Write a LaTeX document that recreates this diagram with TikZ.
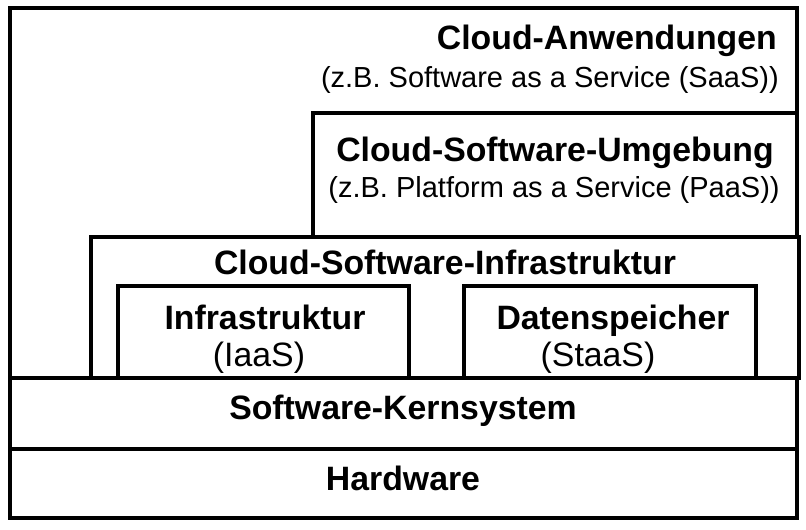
\documentclass[tikz,border=0pt]{standalone}
\usepackage{fontspec}
\setmainfont{Liberation Sans}
\begin{document}
\begin{tikzpicture}[x=0.75pt,y=-0.75pt,
  layer/.style={draw=black,line width=3pt,fill=white},
  title/.style={inner sep=0pt,font=\fontsize{25.35pt}{28pt}\selectfont\bfseries},
  sub/.style={inner sep=0pt,font=\fontsize{21.75pt}{24pt}\selectfont},
  subbig/.style={inner sep=0pt,font=\fontsize{25.35pt}{28pt}\selectfont}]
\useasboundingbox (0,0) rectangle (806,530);
\fill[white] (0,0) rectangle (806,530);
% layers
\draw[layer] (10,8) rectangle (797,518);
\draw[layer] (313,113) rectangle (797,237);
\draw[layer] (91,237) rectangle (799,378);
\draw[layer] (118,286) rectangle (409,378);
\draw[layer] (464,286) rectangle (756,378);
\draw[layer] (10,378) rectangle (797,449);
\draw[layer] (10,449) rectangle (797,518);
% texts
\node[title,anchor=base east] (app) at (777,50) {Cloud-Anwendungen};
\node[sub,anchor=base east] (saas) at (779,88) {(z.B. Software as a Service (SaaS))};
\node[title,anchor=base] (env) at (555,162) {Cloud-Software-Umgebung};
\node[sub,anchor=base] (paas) at (554,198) {(z.B. Platform as a Service (PaaS))};
\node[title,anchor=base] (infra) at (445,275) {Cloud-Software-Infrastruktur};
\node[title,anchor=base] (iaas) at (265,330) {Infrastruktur};
\node[subbig,anchor=base] (iaasb) at (259,367) {(IaaS)};
\node[title,anchor=base] (data) at (613,330) {Datenspeicher};
\node[subbig,anchor=base] (staas) at (598,367) {(StaaS)};
\node[title,anchor=base] (kern) at (403,420) {Software-Kernsystem};
\node[title,anchor=base] (hw) at (403,490) {Hardware};
\end{tikzpicture}
\end{document}
